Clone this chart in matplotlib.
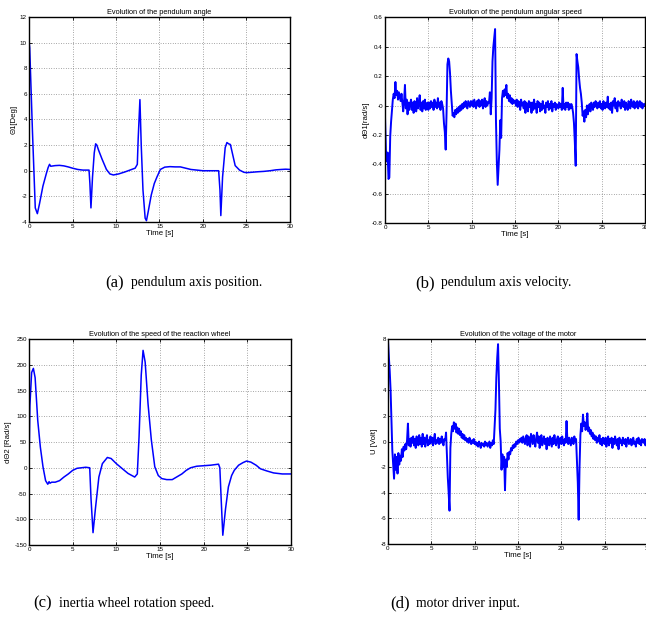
import numpy as np
import matplotlib
matplotlib.use('Agg')
import matplotlib.pyplot as plt
from matplotlib.ticker import FuncFormatter

plt.rcParams['font.family'] = ['Liberation Sans', 'DejaVu Sans']
plt.rcParams['axes.unicode_minus'] = False

# (a) pendulum angle [deg]
t_a = [0, 0.08, 0.4, 0.72, 0.96, 1.2, 1.6, 2.0, 2.2, 2.36, 2.5, 3.0, 3.5, 4.0, 4.5,
       5.0, 5.6, 6.2, 6.9, 7.0, 7.12, 7.3, 7.5, 7.66, 7.8, 8.0, 8.4, 8.9, 9.3, 9.7,
       10.3, 11.0, 11.6, 12.2, 12.45, 12.55, 12.75, 12.9, 13.1, 13.35, 13.5, 13.7,
       14.05, 14.4, 14.7, 15.1, 15.6, 16.2, 16.8, 17.4, 18.0, 18.6, 19.3, 20.0, 21.0,
       21.8, 21.95, 22.05, 22.25, 22.55, 22.75, 22.95, 23.15, 23.4, 23.7, 24.2, 24.7,
       25.0, 25.6, 26.3, 27.0, 27.7, 28.4, 29.0, 29.5, 30.0]
theta1 = [10.1, 9.6, 3.0, -2.9, -3.35, -2.6, -1.2, -0.2, 0.25, 0.5, 0.35, 0.4, 0.42, 0.38, 0.3,
          0.2, 0.1, 0.05, 0.05, -1.0, -2.9, -0.5, 1.4, 2.1, 2.0, 1.6, 0.9, 0.1, -0.25, -0.33,
          -0.25, -0.1, 0.05, 0.2, 0.5, 2.5, 5.55, 2.0, -1.5, -3.7, -3.9, -3.2,
          -1.9, -1.0, -0.5, 0.1, 0.28, 0.32, 0.3, 0.3, 0.2, 0.1, 0.05, 0.0, 0.0,
          0.0, -1.5, -3.5, -0.5, 1.8, 2.2, 2.1, 2.05, 1.3, 0.4, 0.05, -0.12,
          -0.15, -0.12, -0.08, -0.05, 0.0, 0.07, 0.1, 0.12, 0.1]

# (c) reaction wheel speed [rad/s]
t_c = [0, 0.1, 0.3, 0.5, 0.7, 1.0, 1.3, 1.6, 1.9, 2.15, 2.3, 2.4, 2.6, 3.0, 3.5, 4.0,
       4.5, 5.0, 5.5, 6.0, 6.5, 6.95, 7.1, 7.33, 7.6, 8.0, 8.4, 8.97, 9.4, 10.0, 10.7,
       11.34, 12.1, 12.4, 12.6, 12.85, 13.06, 13.3, 13.63, 14.0, 14.4, 14.8, 15.2,
       15.77, 16.4, 16.9, 17.5, 18.0, 18.5, 19.2, 20.0, 20.8, 21.7, 21.85, 22.0, 22.19,
       22.5, 22.83, 23.2, 23.5, 24.0, 24.5, 24.9, 25.4, 26.0, 26.5, 27.2, 28.0, 29.0, 30.0]
dtheta2 = [0, 120, 185, 193, 175, 92, 40, 2, -25, -32, -27, -30, -28, -28, -25, -18,
           -12, -5, -1, 0, 1, 0, -60, -126, -80, -18, 8, 20, 18, 8, -2,
           -11, -18, -12, 60, 180, 228, 205, 124, 55, 2, -15, -21,
           -23, -23, -18, -12, -5, 0, 3, 4, 5, 7, 0, -60, -131,
           -80, -37, -15, -5, 5, 10, 13, 11, 5, -2, -6, -10, -12, -12]

# (b) pendulum angular speed [rad/s], one sample every 0.1 s
dtheta1 = [
    -0.08, -0.30, -0.38, -0.32, -0.50, -0.49, -0.21, -0.11, -0.03, 0.04,
    0.08, 0.05, 0.16, 0.07, 0.10, 0.04, 0.09, 0.06, 0.03, 0.08,
    0.02, -0.04, 0.03, 0.14, -0.02, 0.04, -0.06, 0.02, -0.03, 0.01,
    0.04, -0.03, 0.02, -0.05, 0.03, 0.00, -0.04, 0.05, -0.02, 0.01,
    0.07, -0.03, 0.02, -0.04, 0.03, -0.02, 0.04, -0.03, 0.01, 0.02,
    -0.03, 0.02, -0.02, 0.03, -0.01, 0.02, -0.03, 0.04, -0.01, 0.02,
    -0.02, 0.05, -0.01, 0.02, -0.03, 0.03, 0.01, -0.02, -0.12, -0.18,
    -0.30, -0.05, 0.28, 0.32, 0.30, 0.22, 0.10, 0.02, -0.07, -0.05,
    -0.08, -0.03, -0.06, -0.02, -0.05, -0.01, -0.04, 0.00, -0.03, 0.01,
    -0.02, 0.02, -0.01, 0.03, 0.00, -0.02, 0.03, 0.01, -0.01, 0.03,
    0.00, 0.03, -0.01, 0.04, 0.01, -0.02, 0.03, 0.00, 0.04, -0.01,
    0.03, 0.00, 0.04, -0.02, 0.02, 0.05, -0.01, 0.03, 0.00, 0.02,
    0.02, 0.09, -0.06, 0.05, 0.30, 0.40, 0.46, 0.52, -0.10, -0.38,
    -0.54, -0.42, -0.30, -0.10, -0.22, 0.05, 0.10, 0.06, 0.11, 0.07,
    0.14, 0.05, 0.08, 0.03, 0.07, 0.02, 0.05, 0.01, 0.04, 0.02,
    0.03, 0.00, 0.04, -0.01, 0.03, 0.01, -0.03, 0.04, 0.00, 0.02,
    -0.02, 0.03, -0.05, 0.02, 0.00, -0.04, 0.03, -0.01, 0.02, -0.05,
    0.02, -0.03, 0.04, -0.02, 0.01, -0.05, 0.03, -0.01, 0.02, -0.04,
    0.01, -0.03, 0.03, -0.02, 0.00, -0.05, 0.02, -0.01, 0.03, -0.03,
    0.01, -0.02, 0.03, -0.04, 0.01, -0.01, 0.02, -0.03, 0.01, 0.00,
    -0.02, 0.02, -0.01, 0.01, -0.03, 0.12, -0.02, 0.01, -0.03, 0.02,
    -0.01, 0.02, -0.03, 0.01, -0.02, 0.01, -0.01, -0.05, -0.12, -0.25,
    -0.41, 0.35, 0.30, 0.26, 0.18, 0.12, 0.08, 0.02, -0.07, -0.04,
    -0.11, -0.03, -0.08, 0.00, -0.06, -0.02, 0.01, -0.04, 0.02, -0.01,
    -0.03, 0.02, -0.01, 0.03, 0.00, -0.02, 0.02, -0.01, 0.03, -0.02,
    0.01, -0.03, 0.03, 0.00, -0.02, 0.02, -0.01, 0.06, -0.02, 0.01,
    -0.03, 0.02, -0.05, 0.03, 0.00, 0.05, -0.02, 0.02, -0.04, 0.03,
    0.00, 0.02, -0.02, 0.04, 0.01, -0.01, 0.03, -0.03, 0.02, 0.00,
    -0.03, 0.03, 0.01, -0.02, 0.04, 0.00, -0.01, 0.03, -0.02, 0.02,
    -0.01, 0.03, -0.02, 0.01, 0.03, -0.01, 0.02, -0.02, 0.01, 0.00,
    0.01]

# (d) motor voltage [V], one sample every 0.1 s
u_volt = [
    7.9, 6.6, 5.5, 4.0, 1.5, -0.7, -1.8, -2.9, -1.0, -2.2,
    -1.2, -2.5, -0.9, -1.8, -1.1, -1.5, -0.6, -1.2, -0.4, -0.7,
    -0.2, -0.6, 0.1, 1.4, -0.3, 0.2, -0.4, 0.3, -0.1, 0.4,
    -0.3, 0.2, -0.5, 0.4, 0.0, -0.3, 0.5, -0.2, 0.3, -0.4,
    0.6, -0.2, 0.3, -0.4, 0.2, 0.5, -0.3, 0.1, -0.2, 0.4,
    -0.1, 0.3, -0.3, 0.2, 0.6, -0.2, 0.1, -0.1, 0.3, -0.2,
    0.2, -0.1, 0.4, 0.0, -0.3, 0.2, 0.1, 0.7, -1.0, -2.8,
    -4.0, -5.4, -0.5, 0.6, 1.2, 0.8, 1.5, 1.0, 1.4, 0.7,
    1.1, 0.6, 1.0, 0.5, 0.8, 0.3, 0.6, 0.2, 0.5, 0.1,
    0.3, 0.0, 0.2, -0.1, 0.3, 0.0, -0.2, 0.1, -0.1, 0.2,
    -0.2, 0.0, -0.3, -0.1, -0.4, 0.0, -0.2, -0.5, -0.1, -0.3,
    -0.2, -0.4, 0.0, -0.3, -0.1, -0.4, -0.2, 0.0, -0.5, -0.1,
    -0.3, 0.1, -0.2, 1.1, 2.5, 5.0, 6.5, 7.6, 4.6, 1.0,
    0.0, -2.2, -1.0, -2.0, -1.2, -3.8, -1.4, -2.0, -0.9, -1.4,
    -0.8, -1.0, -0.5, -0.7, -0.3, -0.5, -0.2, -0.4, 0.0, -0.2,
    0.1, -0.1, 0.2, 0.0, 0.3, -0.1, 0.4, 0.1, -0.2, 0.3,
    0.5, -0.3, 0.4, 0.1, -0.4, 0.6, 0.2, -0.2, 0.5, 0.0,
    -0.4, 0.3, 0.7, -0.1, 0.4, -0.5, 0.2, 0.5, -0.3, 0.1,
    0.4, -0.2, 0.2, -0.6, 0.3, 0.1, -0.3, 0.4, 0.0, -0.4,
    0.3, -0.2, 0.5, 0.0, -0.3, 0.2, 0.4, -0.5, 0.1, 0.3,
    -0.2, 0.4, 0.0, -0.3, 0.2, -0.1, 1.6, 0.1, -0.2, 0.3,
    0.0, -0.3, 0.3, 0.1, -0.2, 0.4, 0.0, 0.2, -1.4, -3.2,
    -6.1, -2.0, 0.5, 1.4, 0.8, 2.1, 1.2, 1.5, 0.9, 1.3,
    2.2, 0.8, 1.1, 0.6, 0.9, 0.4, 0.7, 0.2, 0.5, 0.1,
    0.4, -0.1, 0.3, 0.0, 0.5, -0.2, 0.2, -0.3, 0.3, 0.0,
    -0.2, 0.3, -0.4, 0.1, 0.4, -0.3, 0.2, -0.1, 0.3, -0.5,
    0.2, -0.2, 0.4, 0.0, -0.3, 0.2, -0.6, 0.3, -0.1, 0.1,
    -0.3, 0.3, 0.0, -0.2, 0.2, -0.4, 0.1, 0.3, -0.2, 0.0,
    0.2, -0.3, 0.1, 0.3, -0.2, 0.0, -0.4, 0.2, -0.1, 0.3,
    -0.2, 0.1, -0.3, 0.2, 0.0, -0.1, 0.2, -0.3, 0.1, -0.1,
    0.0]

t_sampled = np.linspace(0, 30, len(dtheta1))

panels = [
    # position [left, bottom, width, height], t, y, title, ylabel, ylim, ystep, lw
    ([0.0449, 0.6408, 0.4040, 0.3317], t_a, theta1, 'Evolution of the pendulum angle',
     '\u03981[Deg]', (-4, 12), 2, 1.1),
    ([0.5960, 0.6390, 0.4025, 0.3330], t_sampled, dtheta1, 'Evolution of the pendulum angular speed',
     'd\u03981[rad/s]', (-0.8, 0.6), 0.2, 1.4),
    ([0.0449, 0.1181, 0.4056, 0.3333], t_c, dtheta2, 'Evolution of the speed of the reaction wheel',
     'd\u03982 [Rad/s]', (-150, 250), 50, 1.1),
    ([0.6006, 0.1197, 0.4025, 0.3317], t_sampled, u_volt, 'Evolution of the voltage of the motor',
     'U [Volt]', (-8, 8), 2, 1.4),
]

fig = plt.figure(figsize=(6.46, 6.18), dpi=100)

for pos, t, y, title, ylabel, ylim, ystep, lw in panels:
    ax = fig.add_axes(pos)
    ax.plot(t, y, color='#0000ff', lw=lw)
    ax.set_xlim(0, 30)
    ax.set_ylim(*ylim)
    ax.set_xticks(np.arange(0, 31, 5))
    ax.set_yticks(np.arange(ylim[0], ylim[1] + ystep / 2, ystep))
    ax.yaxis.set_major_formatter(FuncFormatter(lambda v, p: '%g' % round(v, 6)))
    ax.grid(True, linestyle=(0, (1, 2.5)), color='#555555', lw=0.5)
    ax.tick_params(direction='in', top=True, right=True, length=2.5, width=0.6,
                   labelsize=4.5, pad=1.5)
    for s in ax.spines.values():
        s.set_linewidth(1.0)
    ax.set_title(title, fontsize=5.3, pad=2.5)
    ax.set_xlabel('Time [s]', fontsize=5.6, labelpad=0.5)
    ax.set_ylabel(ylabel, fontsize=5.6, labelpad=2)

# sub-figure captions
caps = [
    (105, 283, '(a)', 'pendulum axis position.'),
    (415, 283, '(b)', 'pendulum axis velocity.'),
    (33, 603, '(c)', 'inertia wheel rotation speed.'),
    (390, 603, '(d)', 'motor driver input.'),
]
for x, y, lab, txt in caps:
    fig.text(x / 646, 1 - y / 618, lab, fontsize=12, family='Liberation Serif', va='center')
    fig.text((x + 26) / 646, 1 - y / 618, txt, fontsize=9.8, family='Liberation Serif', va='center')

fig.savefig('out.png', dpi=100)
